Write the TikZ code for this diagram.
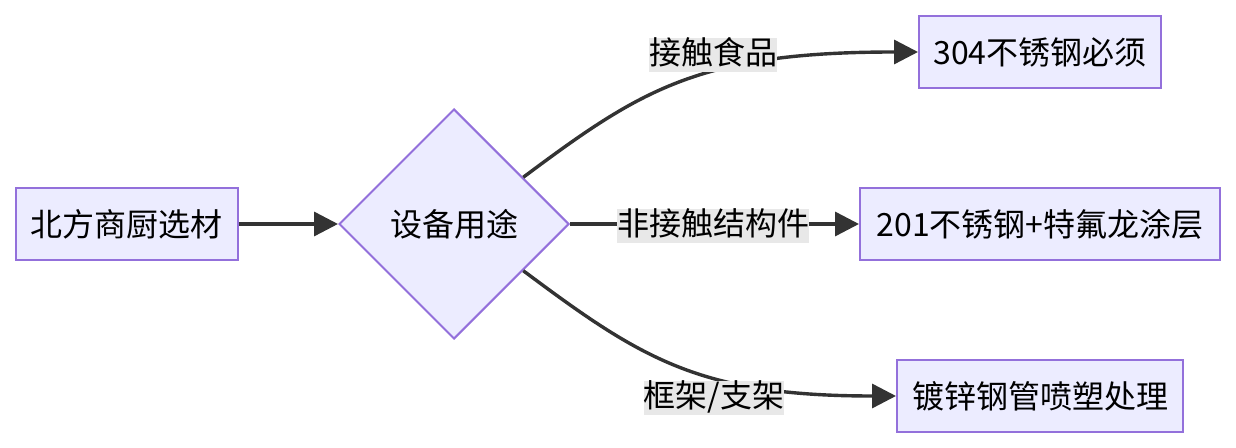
\documentclass[tikz,border=0pt]{standalone}
\usepackage{fontspec}
\newfontfamily\cjk{Noto Sans CJK SC}
\usetikzlibrary{shapes.geometric,arrows.meta}
\definecolor{boxfill}{HTML}{ECECFF}
\definecolor{boxline}{HTML}{9370DB}
\definecolor{edgeline}{HTML}{333333}
\definecolor{labelfill}{HTML}{E8E8E8}
\begin{document}
\begin{tikzpicture}[x=0.5pt,y=-0.5pt,
    font=\cjk\fontsize{16pt}{19pt}\selectfont,
    box/.style={rectangle,draw=boxline,fill=boxfill,line width=1pt,
      minimum height=36pt,inner sep=0pt},
    choice/.style={diamond,draw=boxline,fill=boxfill,line width=1pt,
      minimum width=115pt,minimum height=115pt,aspect=1,inner sep=0pt},
    edgelabel/.style={fill=labelfill,inner xsep=0pt,inner ysep=0pt,
      text height=13.5pt,text depth=3.5pt},
    flow/.style={draw=edgeline,line width=1.7pt,
      -{Triangle[length=12pt,width=12pt]}}]
  \useasboundingbox (0,0) rectangle (1236,448);
  \node[box,minimum width=111pt] (start) at (127,224) {北方商厨选材};
  \node[choice] (use) at (454,224) {设备用途};
  \node[box,minimum width=121pt] (ss304) at (1040,52) {304不锈钢必须};
  \node[box,minimum width=180pt] (ss201) at (1040,224) {201不锈钢+特氟龙涂层};
  \node[box,minimum width=143pt] (pipe) at (1040,396) {镀锌钢管喷塑处理};
  \draw[flow] (start.east) -- (use.west);
  \draw[flow] (use.34) .. controls +(118,-88) and +(-219,0) .. (ss304.west);
  \draw[flow] (use.east) -- (ss201.west);
  \draw[flow] (use.-34) .. controls +(118,88) and +(-197,0) .. (pipe.west);
  \node[edgelabel] (food) at (713,55) {接触食品};
  \node[edgelabel] (frame) at (713,226) {非接触结构件};
  \node[edgelabel] (stand) at (714,398) {框架/支架};
\end{tikzpicture}
\end{document}
